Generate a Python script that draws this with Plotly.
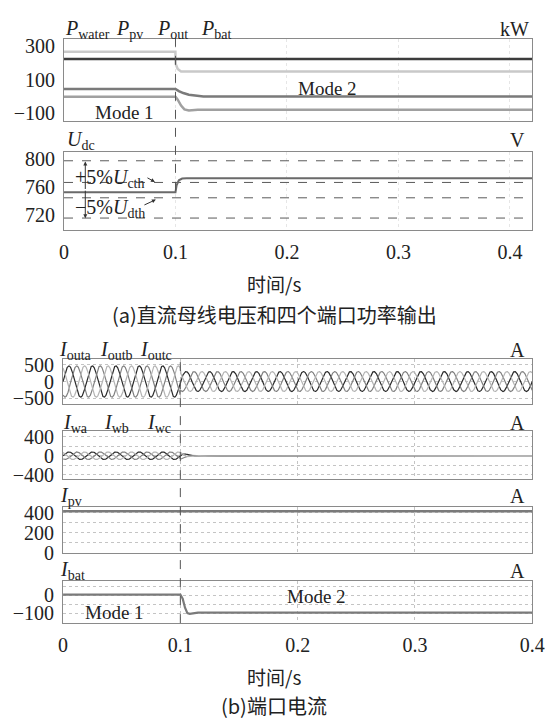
import numpy as np
import plotly.graph_objects as go

W, H = 552, 727
def px(x): return x / W
def py(y): return 1 - y / H

# ---------------- data ----------------
event_t = 0.1
# (a) port powers, kW
p_water_t = [0, 0.1, 0.42]
p_water_v = [225, 225, 225]
p_pv_t = [0, 0.0999, 0.1002, 0.102, 0.105, 0.42]
p_pv_v = [268, 268, 195, 165, 150, 150]
p_out_t = [0, 0.1, 0.103, 0.107, 0.112, 0.118, 0.125, 0.42]
p_out_v = [45, 45, 32, 20, 10, 4, 0, 0]
p_bat_t = [0, 0.1, 0.102, 0.105, 0.108, 0.112, 0.12, 0.42]
p_bat_v = [-2, -2, -20, -55, -78, -84, -80, -80]
# DC bus voltage, V
udc_t = [0, 0.1, 0.101, 0.103, 0.106, 0.11, 0.42]
udc_v = [752, 752, 762, 769, 771.5, 772, 772]
udc_limits = [797, 766, 744, 715]
# (b) port currents, A
grid_freq_hz = 50
iout_amp = [470, 300]            # before / after the mode change
phase_deg = [0, -120, 120]
iw_env_t = [0, 0.1, 0.102, 0.105, 0.109, 0.114, 0.12, 0.4]
iw_env_v = [80, 80, 55, 32, 15, 6, 2, 0]
ipv_t = [0, 0.4]
ipv_v = [415, 415]
ibat_t = [0, 0.1, 0.102, 0.104, 0.106, 0.108, 0.115, 0.4]
ibat_v = [3, 3, -20, -70, -100, -104, -97, -97]

# tick labels
xt_vals = [0, 0.1, 0.2, 0.3, 0.4]
xt_text = ["0", "0.1", "0.2", "0.3", "0.4"]

# ---------------- figure ----------------
fig = go.Figure()
SERIF = "Liberation Serif"
CJK = "Noto Sans CJK SC"

def add(x, y, xa, ya, color, width=2, dash=None):
    fig.add_trace(go.Scatter(x=x, y=y, mode="lines", xaxis=xa, yaxis=ya,
                             line=dict(color=color, width=width, dash=dash),
                             hoverinfo="skip"))

# panel 1: powers
add(p_pv_t, p_pv_v, "x", "y", "#c9c9c9", 2.5)
add(p_water_t, p_water_v, "x", "y", "#3c3c3c", 2.5)
add(p_bat_t, p_bat_v, "x", "y", "#a0a0a0", 2.5)
add(p_out_t, p_out_v, "x", "y", "#7a7a7a", 2.5)

# panel 2: Udc
for lv in udc_limits:
    add([0, 0.42], [lv, lv], "x2", "y2", "#5a5a5a", 1, "dash")
add(udc_t, udc_v, "x2", "y2", "#6a6a6a", 2)

# panel 3: output currents (three-phase)
t = np.linspace(0, 0.4, 4001)
amp = np.where(t < event_t, iout_amp[0], iout_amp[1])
cols3 = ["#2a2a2a", "#808080", "#b4b4b4"]
for ph, c in zip(phase_deg, cols3):
    add(t, amp * np.sin(2 * np.pi * grid_freq_hz * t + np.radians(ph)), "x3", "y3", c, 1.2)

# panel 4: converter currents
env = np.interp(t, iw_env_t, iw_env_v)
for ph, c in zip(phase_deg, cols3):
    add(t, env * np.sin(2 * np.pi * grid_freq_hz * t + np.radians(ph)), "x4", "y4", c, 1.2)

# panel 5: Ipv
add(ipv_t, ipv_v, "x5", "y5", "#7a7a7a", 2.5)
# panel 6: Ibat
add(ibat_t, ibat_v, "x6", "y6", "#7a7a7a", 2.2)

# ---------------- axes ----------------
tickfont = dict(family=SERIF, size=20, color="#222")
def axis(**kw):
    d = dict(showline=True, linecolor="#8a8a8a", linewidth=1, mirror=True, ticks="",
             zeroline=False, showgrid=True, gridcolor="#c4c4c4", griddash="dot", gridwidth=1,
             tickfont=tickfont, ticklabelstandoff=4, fixedrange=True,
             ticklabeloverflow="allow")
    d.update(kw)
    return d

top_x = [px(61), px(545)]
bot_x = [px(60), px(545)]
layout_axes = dict(
    xaxis=axis(domain=top_x, anchor="y", range=[0, 0.42], tickvals=xt_vals, showticklabels=False,
               gridcolor="#e6e6e6"),
    yaxis=axis(domain=[py(119), py(35)], anchor="x", range=[-150, 343],
               tickvals=[-100, 100, 300], ticktext=["\u2212100", "100", "300"], showgrid=False),
    xaxis2=axis(domain=top_x, anchor="y2", range=[0, 0.42], tickvals=xt_vals, ticktext=xt_text,
                gridcolor="#e6e6e6"),
    yaxis2=axis(domain=[py(230), py(150)], anchor="x2", range=[698, 810],
                tickvals=[720, 760, 800], showgrid=False),
    xaxis3=axis(domain=bot_x, anchor="y3", range=[0, 0.4], tickvals=xt_vals, showticklabels=False),
    yaxis3=axis(domain=[py(408), py(362)], anchor="x3", range=[-676, 676],
                tickvals=[-500, 0, 500], ticktext=["\u2212500", "0", "500"]),
    xaxis4=axis(domain=bot_x, anchor="y4", range=[0, 0.4], tickvals=xt_vals, showticklabels=False),
    yaxis4=axis(domain=[py(485), py(436)], anchor="x4", range=[-500, 515],
                tickvals=[-400, -200, 0, 200, 400], ticktext=["\u2212400", "", "0", "", "400"]),
    xaxis5=axis(domain=bot_x, anchor="y5", range=[0, 0.4], tickvals=xt_vals, showticklabels=False),
    yaxis5=axis(domain=[py(560), py(513)], anchor="x5", range=[0, 460],
                tickvals=[0, 100, 200, 300, 400], ticktext=["0", "", "200", "", "400"]),
    xaxis6=axis(domain=bot_x, anchor="y6", range=[0, 0.4], tickvals=xt_vals, ticktext=xt_text),
    yaxis6=axis(domain=[py(632), py(589)], anchor="x6", range=[-155, 78],
                tickvals=[-150, -100, -50, 0, 50], ticktext=["", "\u2212100", "", "0", ""]),
)

# ---------------- text ----------------
ann = []
def txt(x, y, s, size=20, xanchor="left", font=SERIF, yanchor="middle"):
    ann.append(dict(x=px(x), y=py(y), xref="paper", yref="paper", text=s, showarrow=False,
                    xanchor=xanchor, yanchor=yanchor,
                    font=dict(family=font, size=size, color="#222")))

txt(60, 25, "<i>P</i><sub>water</sub>")
txt(113, 25, "<i>P</i><sub>pv</sub>")
txt(155, 25, "<i>P</i><sub>out</sub>")
txt(201, 25, "<i>P</i><sub>bat</sub>")
txt(544, 25, "kW", xanchor="right")
txt(124, 110, "Mode 1", 19, "center")
txt(333, 85, "Mode 2", 19, "center")
txt(62, 139, "<i>U</i><sub>dc</sub>")
txt(540, 138, "V", xanchor="right")
txt(70, 177, "+5%<i>U</i><sub>cth</sub>")
txt(70, 208, "\u22125%<i>U</i><sub>dth</sub>")
txt(278, 285, "时间/s", 19, "center", CJK)
txt(279, 316, "(a)直流母线电压和四个端口功率输出", 20, "center", CJK)

txt(54, 353, "<i>I</i><sub>outa</sub>")
txt(96, 353, "<i>I</i><sub>outb</sub>")
txt(137, 353, "<i>I</i><sub>outc</sub>")
txt(58, 428, "<i>I</i><sub>wa</sub>")
txt(100, 428, "<i>I</i><sub>wb</sub>")
txt(145, 428, "<i>I</i><sub>wc</sub>")
txt(55, 503, "<i>I</i><sub>pv</sub>")
txt(55, 578, "<i>I</i><sub>bat</sub>")
for yy in [353, 427, 502, 579]:
    txt(540, yy, "A", xanchor="right")
txt(113, 621, "Mode 1", 19, "center")
txt(322, 605, "Mode 2", 19, "center")
txt(278, 687, "时间/s", 19, "center", CJK)
txt(278, 716, "(b)端口电流", 20, "center", CJK)

# arrows in the Udc panel
def arrow(hx, hy, dx, dy):
    ann.append(dict(x=px(hx), y=py(hy), xref="paper", yref="paper", ax=dx, ay=dy,
                    axref="pixel", ayref="pixel", text="", showarrow=True,
                    arrowhead=2, arrowsize=0.8, arrowwidth=1, arrowcolor="#333"))
arrow(83, 160, 0, 29)
arrow(83, 218, 0, -29)
arrow(155, 181, -9, -5)
arrow(156, 199, -13, 6)

shapes = [
    dict(type="line", xref="x", yref="paper", x0=event_t, x1=event_t, y0=py(190), y1=py(32),
         line=dict(color="#555", width=1, dash="dash")),
    dict(type="line", xref="x3", yref="paper", x0=event_t, x1=event_t, y0=py(632), y1=py(360),
         line=dict(color="#555", width=1, dash="dash")),
]

fig.update_layout(width=W, height=H, margin=dict(l=0, r=0, t=0, b=0),
                  paper_bgcolor="white", plot_bgcolor="white", showlegend=False,
                  annotations=ann, shapes=shapes, **layout_axes)

fig.write_html("out.html", config={"displayModeBar": False},
               post_script="document.body.style.margin='0';document.body.style.overflow='hidden';")
